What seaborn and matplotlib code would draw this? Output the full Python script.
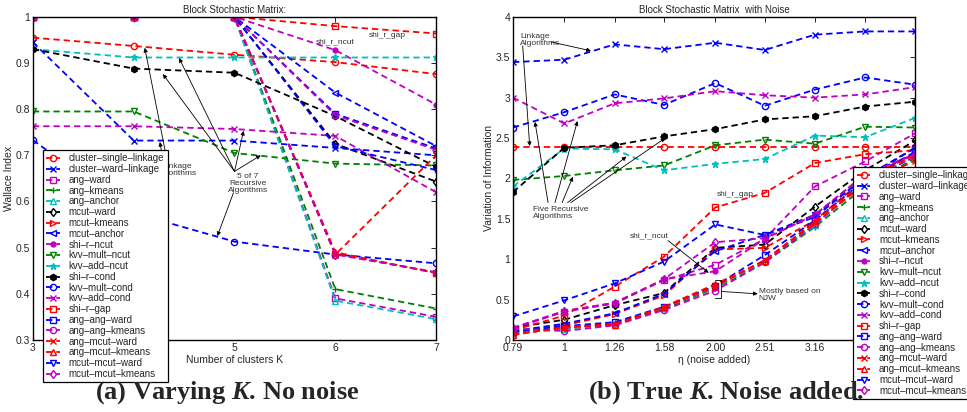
import numpy as np
import pandas as pd
import matplotlib
matplotlib.use("Agg")
import matplotlib.pyplot as plt
import seaborn as sns

# ---------------------------------------------------------
# data
# ---------------------------------------------------------
names = ['cluster-single-linkage', 'cluster-ward-linkage', 'ang-ward', 'ang-kmeans',
         'ang-anchor', 'mcut-ward', 'mcut-kmeans', 'mcut-anchor', 'shi-r-ncut',
         'kvv-mult-ncut', 'kvv-add-ncut', 'shi-r-cond', 'kvv-mult-cond', 'kvv-add-cond',
         'shi-r-gap', 'ang-ang-ward', 'ang-ang-kmeans', 'ang-mcut-ward',
         'ang-mcut-kmeans', 'mcut-mcut-ward', 'mcut-mcut-kmeans']
colors = ['r', 'b', 'm', 'g', 'c', 'k', 'r', 'b', 'm', 'g', 'c', 'k', 'b', 'm', 'r',
          'b', 'm', 'r', 'r', 'b', 'm']
markers = ['o', 'x', 's', '+', '^', 'd', '>', '<', '.', 'v', '*', 'h', 'o', 'x', 's',
           's', 'o', 'x', '^', 'v', 'd']

# (a) Wallace index vs number of clusters K
k_vals = [3, 4, 5, 6, 7]
wallace = {
    'cluster-single-linkage': [0.955, 0.937, 0.918, 0.902, 0.876],
    'cluster-ward-linkage':   [0.945, 0.732, 0.732, 0.716, 0.700],
    'ang-ward':               [1.0, 1.0, 1.0, 0.390, 0.350],
    'ang-kmeans':             [1.0, 1.0, 1.0, 0.410, 0.368],
    'ang-anchor':             [1.0, 1.0, 1.0, 0.385, 0.345],
    'mcut-ward':              [1.0, 1.0, 1.0, 0.725, 0.643],
    'mcut-kmeans':            [1.0, 1.0, 1.0, 0.487, 0.445],
    'mcut-anchor':            [1.0, 1.0, 1.0, 0.836, 0.720],
    'shi-r-ncut':             [1.0, 1.0, 1.0, 0.928, 0.810],
    'kvv-mult-ncut':          [0.795, 0.795, 0.705, 0.682, 0.678],
    'kvv-add-ncut':           [0.930, 0.912, 0.912, 0.912, 0.912],
    'shi-r-cond':             [0.930, 0.888, 0.879, 0.785, 0.675],
    'kvv-mult-cond':          [0.733, 0.575, 0.513, 0.485, 0.466],
    'kvv-add-cond':           [0.763, 0.763, 0.757, 0.742, 0.620],
    'shi-r-gap':              [1.0, 1.0, 1.0, 0.980, 0.964],
    'ang-ang-ward':           [1.0, 1.0, 1.0, 0.790, 0.715],
    'ang-ang-kmeans':         [1.0, 1.0, 1.0, 0.787, 0.712],
    'ang-mcut-ward':          [1.0, 1.0, 1.0, 0.485, 0.700],
    'ang-mcut-kmeans':        [1.0, 1.0, 1.0, 0.490, 0.445],
    'mcut-mcut-ward':         [1.0, 1.0, 1.0, 0.720, 0.668],
    'mcut-mcut-kmeans':       [1.0, 1.0, 1.0, 0.485, 0.447],
}

# (b) variation of information vs noise eta
eta_vals = [0.79, 1.00, 1.26, 1.58, 2.00, 2.51, 3.16, 3.98, 5.01]
eta_labels = ['0.79', '1', '1.26', '1.58', '2.00', '2.51', '3.16', '3.98', '5.01']
vi = {
    'cluster-single-linkage': [2.39, 2.39, 2.39, 2.39, 2.39, 2.39, 2.39, 2.39, 2.39],
    'cluster-ward-linkage':   [3.44, 3.47, 3.66, 3.60, 3.68, 3.59, 3.78, 3.82, 3.82],
    'ang-ward':               [0.14, 0.35, 0.45, 0.74, 0.93, 1.25, 1.90, 2.21, 2.56],
    'ang-kmeans':             [0.08, 0.14, 0.19, 0.38, 0.64, 0.96, 1.40, 1.90, 2.25],
    'ang-anchor':             [0.09, 0.13, 0.21, 0.40, 0.65, 0.98, 1.42, 1.95, 2.28],
    'mcut-ward':              [0.15, 0.25, 0.43, 0.58, 1.14, 1.18, 1.65, 2.10, 2.47],
    'mcut-kmeans':            [0.10, 0.18, 0.32, 0.55, 1.12, 1.14, 1.48, 2.00, 2.30],
    'mcut-anchor':            [0.11, 0.20, 0.33, 0.57, 1.10, 1.30, 1.52, 2.02, 2.38],
    'shi-r-ncut':             [0.15, 0.35, 0.46, 0.75, 0.85, 1.25, 1.55, 2.05, 2.30],
    'kvv-mult-ncut':          [1.98, 2.03, 2.10, 2.16, 2.41, 2.48, 2.43, 2.64, 2.63],
    'kvv-add-ncut':           [1.90, 2.37, 2.36, 2.10, 2.18, 2.24, 2.53, 2.51, 2.75],
    'shi-r-cond':             [1.83, 2.38, 2.41, 2.52, 2.61, 2.73, 2.77, 2.89, 2.95],
    'kvv-mult-cond':          [2.63, 2.82, 3.04, 2.91, 3.18, 2.90, 3.10, 3.25, 3.16],
    'kvv-add-cond':           [3.00, 2.68, 2.93, 2.99, 3.08, 3.03, 3.00, 3.04, 3.13],
    'shi-r-gap':              [0.12, 0.30, 0.66, 1.03, 1.64, 1.82, 2.19, 2.30, 2.35],
    'ang-ang-ward':           [0.10, 0.17, 0.22, 0.41, 0.67, 1.05, 1.48, 1.98, 2.33],
    'ang-ang-kmeans':         [0.14, 0.11, 0.18, 0.37, 0.61, 0.96, 1.43, 1.96, 2.27],
    'ang-mcut-ward':          [0.07, 0.15, 0.20, 0.40, 0.66, 0.99, 1.45, 1.93, 2.22],
    'ang-mcut-kmeans':        [0.06, 0.16, 0.19, 0.41, 0.69, 0.98, 1.47, 1.97, 2.30],
    'mcut-mcut-ward':         [0.29, 0.49, 0.70, 0.97, 1.43, 1.30, 1.55, 2.00, 2.38],
    'mcut-mcut-kmeans':       [0.15, 0.36, 0.46, 0.75, 1.21, 1.26, 1.55, 2.05, 2.30],
}

# ---------------------------------------------------------
# style
# ---------------------------------------------------------
sns.set_style('white')
plt.rcParams['font.family'] = ['Liberation Sans', 'DejaVu Sans']
plt.rcParams['xtick.direction'] = 'in'
plt.rcParams['ytick.direction'] = 'in'
plt.rcParams['xtick.top'] = True
plt.rcParams['ytick.right'] = True
plt.rcParams['xtick.major.size'] = 3.5
plt.rcParams['ytick.major.size'] = 3.5
plt.rcParams['mathtext.fontset'] = 'custom'
plt.rcParams['mathtext.it'] = 'Liberation Serif:italic:bold'
plt.rcParams['mathtext.rm'] = 'Liberation Serif:bold'

filled = {'.', '*', 'h', 'x', '+'}
dash = (0, (3.5, 2.2))


def draw_series(ax, x, table):
    for name, c, m in zip(names, colors, markers):
        sns.lineplot(x=x, y=table[name], ax=ax, color=c, marker=m,
                     markersize=4.5 if m != '.' else 7,
                     markerfacecolor=c if m in filled else 'none',
                     markeredgecolor=c, markeredgewidth=1.0,
                     linestyle=dash, linewidth=1.3,
                     label=name.replace('-', '\u2013'))


fig = plt.figure(figsize=(9.67, 4.12), dpi=100)
ax1 = fig.add_axes([0.034, 0.175, 0.417, 0.784])
ax2 = fig.add_axes([0.5305, 0.175, 0.416, 0.784])

arrow = dict(arrowstyle='-|>', lw=0.6, color='k', mutation_scale=6, shrinkA=0, shrinkB=0)
note = dict(fontsize=6, color='#333333')

# ---------------------------------------------------------
# (a) Varying K
# ---------------------------------------------------------
draw_series(ax1, k_vals, wallace)
ax1.set_xlim(3, 7)
ax1.set_ylim(0.3, 1.0)
ax1.set_xticks(k_vals)
ax1.set_yticks([0.3, 0.4, 0.5, 0.6, 0.7, 0.8, 0.9, 1.0])
ax1.set_yticklabels(['0.3', '0.4', '0.5', '0.6', '0.7', '0.8', '0.9', '1'])
ax1.set_title('Block Stochastic Matrix:', fontsize=7, pad=3)
ax1.set_xlabel('Number of clusters K', fontsize=7.5, labelpad=2)
ax1.set_ylabel('Wallace Index', fontsize=7.5, labelpad=1)

ax1.text(6.0, 0.946, 'shi_r_ncut', ha='center', va='center', **note)
ax1.text(6.52, 0.959, 'shi_r_gap', ha='center', va='center', **note)
ax1.text(4.43, 0.668, 'Linkage\nalgorithms', ha='center', va='center', linespacing=1.0, **note)
ax1.annotate('', xy=(4.11, 0.933), xytext=(4.33, 0.69), arrowprops=arrow)
ax1.annotate('', xy=(4.26, 0.729), xytext=(4.29, 0.69), arrowprops=arrow)
ax1.text(5.13, 0.640, '5 of 7\nRecursive\nAlgorithms', ha='center', va='center',
         linespacing=1.0, **note)
for tip in [(4.29, 0.876), (4.45, 0.911), (5.09, 0.753), (5.26, 0.70)]:
    ax1.annotate('', xy=tip, xytext=(5.0, 0.665), arrowprops=arrow)
ax1.annotate('', xy=(4.83, 0.525), xytext=(4.99, 0.619), arrowprops=arrow)

# ---------------------------------------------------------
# (b) True K, noise added
# ---------------------------------------------------------
draw_series(ax2, eta_vals, vi)
ax2.set_xscale('log')
ax2.set_xlim(0.79, 5.01)
ax2.set_ylim(0, 4)
ax2.set_xticks(eta_vals)
ax2.set_xticklabels(eta_labels)
ax2.minorticks_off()
ax2.set_yticks([0, 0.5, 1, 1.5, 2, 2.5, 3, 3.5, 4])
ax2.set_yticklabels(['0', '0.5', '1', '1.5', '2', '2.5', '3', '3.5', '4'])
ax2.set_title('Block Stochastic Matrix  with Noise', fontsize=7, pad=3)
ax2.set_xlabel('\u03b7 (noise added)', fontsize=7.5, labelpad=2)
ax2.set_ylabel('Variation of Information', fontsize=7.5, labelpad=1)

ax2.text(0.816, 3.72, 'Linkage\nAlgorithms', ha='left', va='center', linespacing=1.0, **note)
ax2.annotate('', xy=(1.13, 3.58), xytext=(0.94, 3.69), arrowprops=arrow)
ax2.annotate('', xy=(0.853, 2.40), xytext=(0.826, 3.64), arrowprops=arrow)
ax2.text(0.866, 1.57, 'Five Recursive\nAlgorithms', ha='left', va='center', linespacing=1.0, **note)
for tail, tip in [(0.928, (0.874, 2.70)), (0.958, (1.062, 2.71)), (0.99, (1.04, 2.02)),
                  (1.015, (1.33, 2.27)), (1.03, (1.59, 2.50))]:
    ax2.annotate('', xy=tip, xytext=(tail, 1.70), arrowprops=arrow)
ax2.text(2.19, 1.80, 'shi_r_gap', ha='center', va='center', **note)
ax2.text(1.48, 1.29, 'shi_r_ncut', ha='center', va='center', **note)
ax2.annotate('', xy=(1.94, 0.83), xytext=(1.61, 1.23), arrowprops=arrow)
ax2.plot([2.0, 2.05, 2.05, 2.0], [0.745, 0.745, 0.52, 0.52], color='k', lw=0.6)
ax2.annotate('', xy=(2.43, 0.57), xytext=(2.06, 0.60), arrowprops=arrow)
ax2.text(2.44, 0.56, 'Mostly based on\nNJW', ha='left', va='center', linespacing=1.0, **note)

# ---------------------------------------------------------
# frames, legends and captions
# ---------------------------------------------------------
for ax in (ax1, ax2):
    ax.tick_params(labelsize=7.5, width=0.7, pad=2)
    for s in ax.spines.values():
        s.set_color('k')
        s.set_linewidth(1.0)

leg_kw = dict(loc='upper left', fontsize=7, labelspacing=0.08, handlelength=1.4,
              handletextpad=0.9, borderpad=0.35, borderaxespad=0, frameon=True,
              fancybox=False, framealpha=1, edgecolor='k')
leg1 = ax1.legend(bbox_to_anchor=(0.025, 0.588), **leg_kw)
leg2 = ax2.legend(bbox_to_anchor=(0.846, 0.536), **leg_kw)
for leg in (leg1, leg2):
    leg.get_frame().set_linewidth(0.9)
    leg.set_zorder(10)

cap = dict(fontsize=19, fontweight='bold', family='Liberation Serif', ha='center', va='center')
fig.text(0.235, 0.046, r'(a) Varying $K$. No noise', **cap)
fig.text(0.751, 0.046, r'(b) True $K$. Noise added.', **cap)

fig.savefig('out.png', dpi=100)
